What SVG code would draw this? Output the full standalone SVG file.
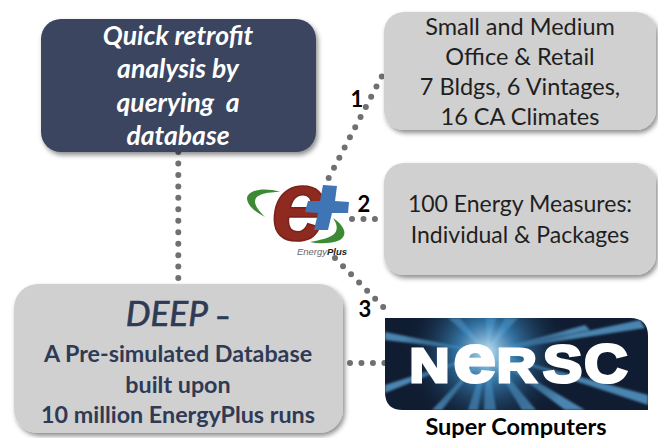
<svg xmlns="http://www.w3.org/2000/svg" width="658" height="438" viewBox="0 0 658 438">
<style>
text{font-family:Lato,"Open Sans","Liberation Sans",sans-serif;text-anchor:middle}
.g{fill:#d0d0d0;filter:url(#s)}
.d{fill:none;stroke:#707070;stroke-width:6;stroke-linecap:round;stroke-dasharray:0 11.46}
.w{fill:#1f1f1f;font-size:23.5px}
.n{fill:#2f3a55;font-size:23.3px;font-weight:700}
.b{fill:#000;font-size:22px;font-weight:700}
.r{fill:#62b0e6;opacity:.7}
</style>
<defs>
<filter id="s" x="-10%" y="-10%" width="125%" height="125%"><feDropShadow dx="2" dy="3" stdDeviation="2.5" flood-color="#000" flood-opacity=".45"/></filter>
<filter id="bl"><feGaussianBlur stdDeviation="1.2"/></filter>
<radialGradient id="glow" gradientUnits="userSpaceOnUse" cx="487" cy="352" r="85"><stop offset="0" stop-color="#c5e8fb" stop-opacity=".98"/><stop offset=".35" stop-color="#3b87bd" stop-opacity=".8"/><stop offset="1" stop-color="#0d1a2f" stop-opacity="0"/></radialGradient>
<clipPath id="nc"><path d="M385 318H630Q648 318 648 336V410H403Q385 410 385 392Z"/></clipPath>
</defs>
<rect width="658" height="438" fill="#fff"/>
<g id="connectors">
<path class="d" d="M178.3 152V279"/>
<path class="d" d="M328.7 178L382 76"/>
<path class="d" d="M352 219H375"/>
<path class="d" d="M335 258L391 315"/>
<path class="d" d="M350 363H385"/>
</g>
<g id="quick">
<rect x="41" y="19" width="275" height="133" rx="20" fill="#3a4560" filter="url(#s)"/>
<g fill="#fff" font-size="26.5" font-weight="700" font-style="italic">
<text x="178" y="45">Quick retrofit</text>
<text x="178" y="78">analysis by</text>
<text x="178" y="112" style="white-space:pre">querying  a</text>
<text x="178" y="145">database</text>
</g>
</g>
<g id="buildings">
<rect class="g" x="384" y="12" width="272" height="118" rx="20"/>
<text class="w" x="520" y="35">Small and Medium</text>
<text class="w" x="520" y="65">Office &amp; Retail</text>
<text class="w" x="520" y="95">7 Bldgs, 6 Vintages,</text>
<text class="w" x="520" y="125">16 CA Climates</text>
</g>
<g id="measures">
<rect class="g" x="384" y="163" width="272" height="112" rx="20"/>
<text class="w" x="520" y="212" style="font-size:23px">100 Energy Measures:</text>
<text class="w" x="520" y="243" style="font-size:23px">Individual &amp; Packages</text>
</g>
<g id="deep">
<rect class="g" x="14" y="284" width="329" height="149" rx="24"/>
<text x="178" y="326" fill="#2f3a55" stroke="#2f3a55" stroke-width=".7" font-size="35" font-style="italic">DEEP <tspan font-weight="700" font-size="26" font-style="normal">–</tspan></text>
<text class="n" x="178" y="362">A Pre-simulated Database</text>
<text class="n" x="178" y="393">built upon</text>
<text class="n" x="178" y="423">10 million EnergyPlus runs</text>
</g>
<g id="energyplus">
<path d="M280 192C264 187 248 190 247 198C247 205 255 212 265 217C257 209 253 203 256 198C259 194 268 192 280 192Z" fill="#3c8b34"/>
<path d="M333 218C345 226 348 235 340 240C332 244 318 244 310 242C320 240 331 238 335 233C338 229 337 224 333 218Z" fill="#3c8b34"/>
<text x="299" y="240" fill="#8e2a20" stroke="#7a211a" stroke-width="1.5" font-size="100" font-weight="700" font-style="italic" style="font-family:'Liberation Sans',sans-serif">e</text>
<path d="M323 185L337 186L335 201L349 202L348 213L332 213L328 230L314 230L318 213L305 212L308 201L320 201Z" fill="#3f74b5"/>
<text x="322" y="255" fill="#666" font-size="9.5" font-style="italic" style="font-family:'Liberation Sans',sans-serif">Energy<tspan font-weight="700" fill="#222">Plus</tspan></text>
</g>
<g id="nersc">
<path d="M385 318H630Q648 318 648 336V410H403Q385 410 385 392Z" fill="#101c31"/>
<g clip-path="url(#nc)"><g filter="url(#bl)">
<path class="r" d="M487 352L448 318H460Z"/><path class="r" d="M487 352L486 318H496Z"/><path class="r" d="M487 352L505 318H518Z"/><path class="r" d="M487 352L585 325L590 330Z"/><path class="r" d="M487 352L640 320L645 328Z"/><path class="r" d="M487 352L385 332V340Z"/><path class="r" d="M487 352L385 385V393Z"/><path class="r" d="M487 352L468 410H478Z"/><path class="r" d="M487 352L484 410H496Z"/><path class="r" d="M487 352L522 410H536Z"/><path class="r" d="M487 352L565 410H585Z"/><path class="r" d="M487 352L432 410H442Z"/><path class="r" d="M487 352L648 395V405Z"/>
</g><rect x="385" y="318" width="263" height="92" fill="url(#glow)"/></g>
<text transform="scale(1.13 1)" y="382.5" fill="#fff" stroke="#fff" stroke-width="3" font-weight="700" style="text-anchor:start;font-family:'Liberation Sans',sans-serif"><tspan x="362.5" font-size="49">N</tspan><tspan x="401" font-size="68">e</tspan><tspan x="439.5" font-size="49">R</tspan><tspan x="480.5" font-size="52">S</tspan><tspan x="517" font-size="53">C</tspan></text>
<text x="516" y="435" fill="#000" font-size="23.5" font-weight="700">Super Computers</text>
</g>
<g id="labels">
<text class="b" x="357" y="107">1</text>
<text class="b" x="364" y="212">2</text>
<text class="b" x="365" y="317">3</text>
</g>
</svg>
